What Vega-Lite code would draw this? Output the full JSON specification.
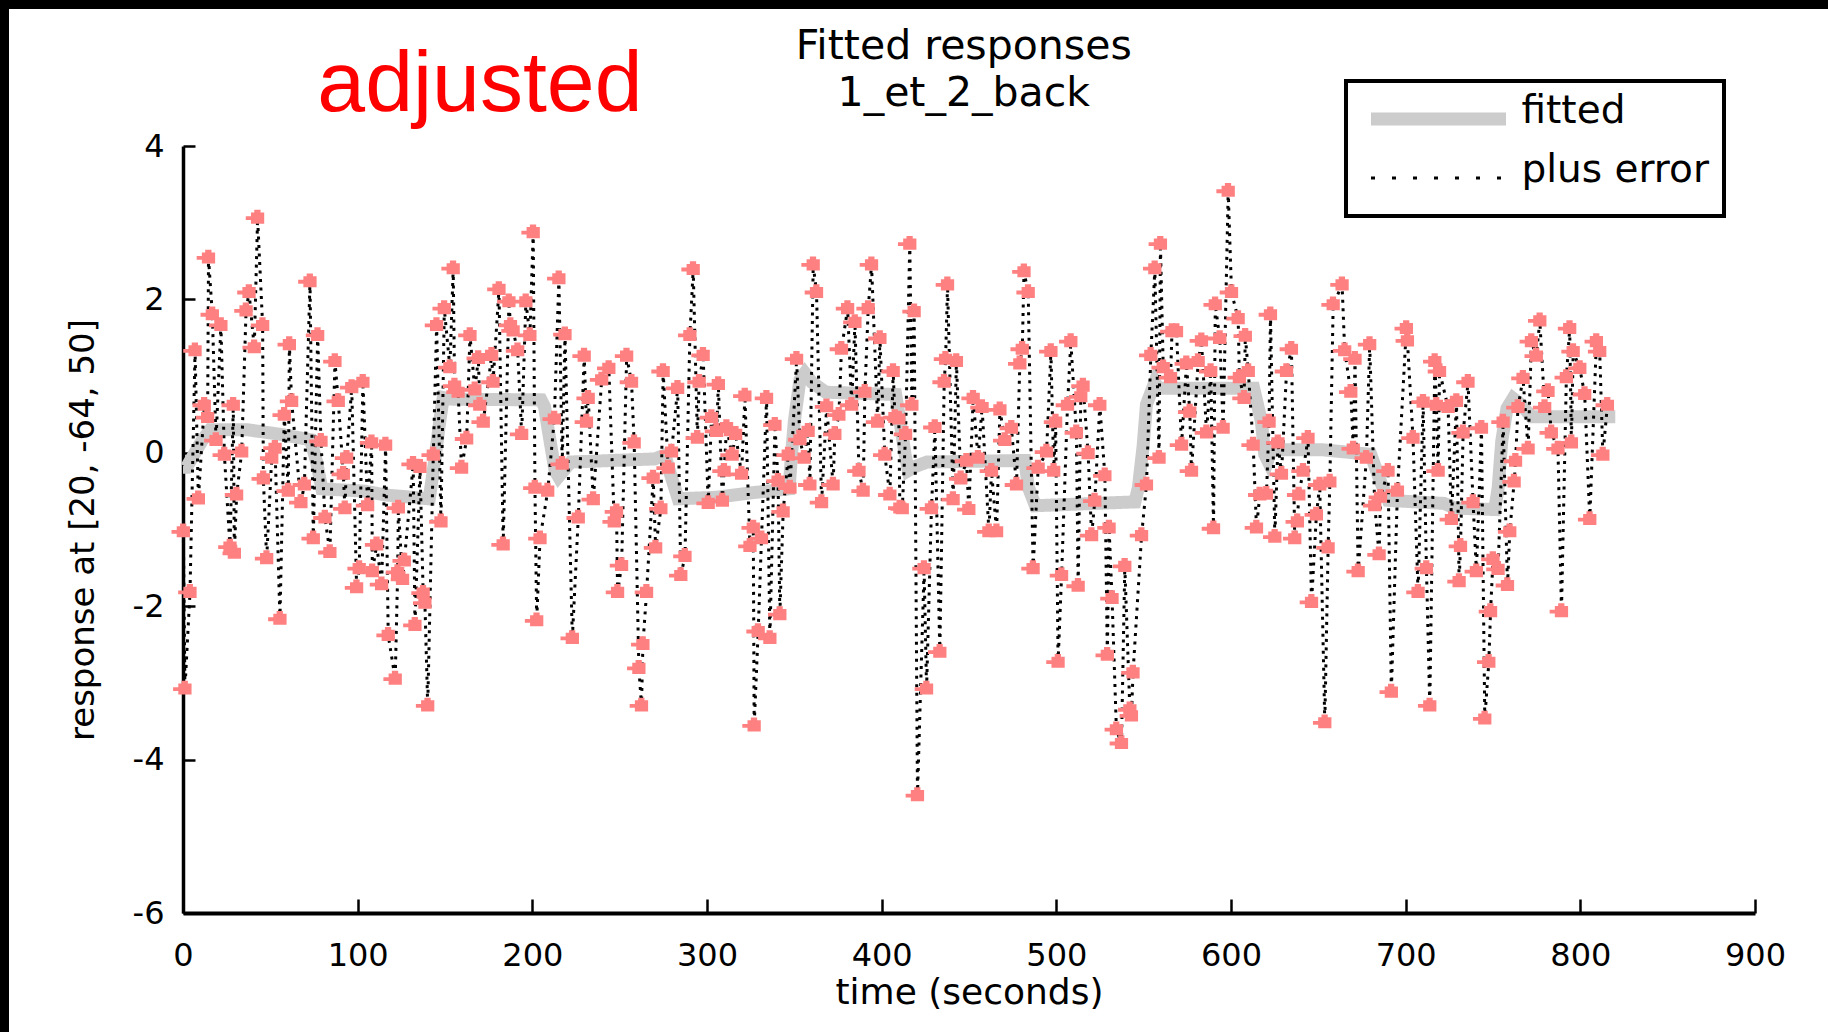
{
  "$schema": "https://vega.github.io/schema/vega-lite/v6.json",
  "width": 1819,
  "height": 1023,
  "autosize": {"type": "none"},
  "padding": {"left": 9, "top": 9, "right": 0, "bottom": 0},
  "background": "#000000",
  "config": {
    "view": {"fill": "#ffffff", "stroke": null},
    "font": "DejaVu Sans",
    "legend": {
      "orient": "none",
      "legendX": 1337,
      "legendY": 72,
      "direction": "vertical",
      "symbolType": "stroke",
      "symbolSize": 18225,
      "clipHeight": 46,
      "rowPadding": 9,
      "padding": 15,
      "symbolOffset": 3.5,
      "labelOffset": 9,
      "labelFont": "DejaVu Sans",
      "labelFontSize": 39,
      "labelBaseline": "alphabetic",
      "labelColor": "#000000",
      "labelLimit": 500,
      "strokeColor": "#000000",
      "strokeWidth": 4,
      "fillColor": "#ffffff"
    }
  },
  "datasets": {
    "fitted": [
      {"t": 0, "v": -0.19, "series": "fitted"},
      {"t": 2, "v": -0.19, "series": "fitted"},
      {"t": 10.7, "v": 0.15, "series": "fitted"},
      {"t": 15.5, "v": 0.3, "series": "fitted"},
      {"t": 37, "v": 0.3, "series": "fitted"},
      {"t": 56, "v": 0.24, "series": "fitted"},
      {"t": 73, "v": 0.17, "series": "fitted"},
      {"t": 76.5, "v": -0.12, "series": "fitted"},
      {"t": 79.5, "v": -0.47, "series": "fitted"},
      {"t": 104, "v": -0.5, "series": "fitted"},
      {"t": 116, "v": -0.55, "series": "fitted"},
      {"t": 141, "v": -0.6, "series": "fitted"},
      {"t": 144, "v": -0.12, "series": "fitted"},
      {"t": 147, "v": 0.41, "series": "fitted"},
      {"t": 149, "v": 0.72, "series": "fitted"},
      {"t": 153, "v": 0.7, "series": "fitted"},
      {"t": 205, "v": 0.69, "series": "fitted"},
      {"t": 207, "v": 0.6, "series": "fitted"},
      {"t": 209, "v": 0.31, "series": "fitted"},
      {"t": 213, "v": -0.23, "series": "fitted"},
      {"t": 215, "v": -0.31, "series": "fitted"},
      {"t": 222, "v": -0.12, "series": "fitted"},
      {"t": 270, "v": -0.08, "series": "fitted"},
      {"t": 276, "v": -0.03, "series": "fitted"},
      {"t": 278, "v": -0.2, "series": "fitted"},
      {"t": 283.5, "v": -0.6, "series": "fitted"},
      {"t": 305, "v": -0.58, "series": "fitted"},
      {"t": 326, "v": -0.52, "series": "fitted"},
      {"t": 347, "v": -0.47, "series": "fitted"},
      {"t": 348.4, "v": -0.02, "series": "fitted"},
      {"t": 350, "v": 0.41, "series": "fitted"},
      {"t": 353.2, "v": 0.95, "series": "fitted"},
      {"t": 356, "v": 1.04, "series": "fitted"},
      {"t": 360, "v": 0.92, "series": "fitted"},
      {"t": 368, "v": 0.79, "series": "fitted"},
      {"t": 408, "v": 0.76, "series": "fitted"},
      {"t": 410.5, "v": 0.41, "series": "fitted"},
      {"t": 413.4, "v": -0.02, "series": "fitted"},
      {"t": 415.3, "v": -0.23, "series": "fitted"},
      {"t": 419, "v": -0.18, "series": "fitted"},
      {"t": 426, "v": -0.12, "series": "fitted"},
      {"t": 482, "v": -0.1, "series": "fitted"},
      {"t": 484, "v": -0.45, "series": "fitted"},
      {"t": 488, "v": -0.69, "series": "fitted"},
      {"t": 545, "v": -0.64, "series": "fitted"},
      {"t": 547, "v": -0.45, "series": "fitted"},
      {"t": 549.7, "v": 0.09, "series": "fitted"},
      {"t": 551.6, "v": 0.63, "series": "fitted"},
      {"t": 556.4, "v": 0.92, "series": "fitted"},
      {"t": 558, "v": 0.84, "series": "fitted"},
      {"t": 613, "v": 0.84, "series": "fitted"},
      {"t": 617.4, "v": 0.41, "series": "fitted"},
      {"t": 619.3, "v": -0.02, "series": "fitted"},
      {"t": 621, "v": -0.1, "series": "fitted"},
      {"t": 623, "v": 0.04, "series": "fitted"},
      {"t": 652, "v": 0.04, "series": "fitted"},
      {"t": 680, "v": -0.02, "series": "fitted"},
      {"t": 685, "v": -0.34, "series": "fitted"},
      {"t": 690, "v": -0.62, "series": "fitted"},
      {"t": 722, "v": -0.66, "series": "fitted"},
      {"t": 728, "v": -0.72, "series": "fitted"},
      {"t": 751, "v": -0.74, "series": "fitted"},
      {"t": 753, "v": -0.45, "series": "fitted"},
      {"t": 755, "v": 0.15, "series": "fitted"},
      {"t": 758, "v": 0.58, "series": "fitted"},
      {"t": 761.5, "v": 0.71, "series": "fitted"},
      {"t": 766, "v": 0.63, "series": "fitted"},
      {"t": 772, "v": 0.47, "series": "fitted"},
      {"t": 820, "v": 0.47, "series": "fitted"}
    ],
    "response": [
      {"t": 0.2, "v": -1.03, "series": "plus error"},
      {"t": 1.1, "v": -3.08, "series": "plus error"},
      {"t": 4.0, "v": -1.82, "series": "plus error"},
      {"t": 6.9, "v": 1.33, "series": "plus error"},
      {"t": 8.8, "v": -0.6, "series": "plus error"},
      {"t": 12.2, "v": 0.62, "series": "plus error"},
      {"t": 14.1, "v": 0.46, "series": "plus error"},
      {"t": 14.6, "v": 2.54, "series": "plus error"},
      {"t": 16.8, "v": 1.8, "series": "plus error"},
      {"t": 18.9, "v": 0.16, "series": "plus error"},
      {"t": 21.7, "v": 1.66, "series": "plus error"},
      {"t": 23.7, "v": -0.03, "series": "plus error"},
      {"t": 26.9, "v": -1.23, "series": "plus error"},
      {"t": 28.8, "v": 0.62, "series": "plus error"},
      {"t": 29.4, "v": -1.31, "series": "plus error"},
      {"t": 30.7, "v": -0.55, "series": "plus error"},
      {"t": 33.6, "v": 0.01, "series": "plus error"},
      {"t": 36.1, "v": 1.85, "series": "plus error"},
      {"t": 37.8, "v": 2.09, "series": "plus error"},
      {"t": 40.8, "v": 1.37, "series": "plus error"},
      {"t": 42.7, "v": 3.06, "series": "plus error"},
      {"t": 45.6, "v": 1.66, "series": "plus error"},
      {"t": 46.0, "v": -0.34, "series": "plus error"},
      {"t": 47.9, "v": -1.38, "series": "plus error"},
      {"t": 50.8, "v": -0.07, "series": "plus error"},
      {"t": 52.7, "v": 0.06, "series": "plus error"},
      {"t": 55.5, "v": -2.17, "series": "plus error"},
      {"t": 58.0, "v": 0.49, "series": "plus error"},
      {"t": 60.3, "v": -0.5, "series": "plus error"},
      {"t": 60.9, "v": 1.41, "series": "plus error"},
      {"t": 62.2, "v": 0.67, "series": "plus error"},
      {"t": 67.5, "v": -0.65, "series": "plus error"},
      {"t": 69.5, "v": -0.42, "series": "plus error"},
      {"t": 72.7, "v": 2.23, "series": "plus error"},
      {"t": 74.6, "v": -1.12, "series": "plus error"},
      {"t": 77.1, "v": 1.53, "series": "plus error"},
      {"t": 79.0, "v": 0.15, "series": "plus error"},
      {"t": 81.3, "v": -0.85, "series": "plus error"},
      {"t": 84.1, "v": -1.3, "series": "plus error"},
      {"t": 87.0, "v": 1.19, "series": "plus error"},
      {"t": 88.9, "v": 0.67, "series": "plus error"},
      {"t": 91.8, "v": -0.28, "series": "plus error"},
      {"t": 92.7, "v": -0.73, "series": "plus error"},
      {"t": 93.7, "v": -0.07, "series": "plus error"},
      {"t": 96.6, "v": 0.85, "series": "plus error"},
      {"t": 99.4, "v": -1.76, "series": "plus error"},
      {"t": 100.9, "v": -1.51, "series": "plus error"},
      {"t": 103.0, "v": 0.92, "series": "plus error"},
      {"t": 105.7, "v": -0.69, "series": "plus error"},
      {"t": 108.0, "v": 0.13, "series": "plus error"},
      {"t": 108.4, "v": -1.55, "series": "plus error"},
      {"t": 110.9, "v": -1.2, "series": "plus error"},
      {"t": 113.7, "v": -1.72, "series": "plus error"},
      {"t": 116.0, "v": 0.1, "series": "plus error"},
      {"t": 117.5, "v": -2.38, "series": "plus error"},
      {"t": 121.5, "v": -2.95, "series": "plus error"},
      {"t": 122.9, "v": -1.56, "series": "plus error"},
      {"t": 123.3, "v": -0.72, "series": "plus error"},
      {"t": 125.7, "v": -1.65, "series": "plus error"},
      {"t": 126.7, "v": -1.41, "series": "plus error"},
      {"t": 131.8, "v": -0.15, "series": "plus error"},
      {"t": 132.8, "v": -2.25, "series": "plus error"},
      {"t": 135.7, "v": -0.19, "series": "plus error"},
      {"t": 137.5, "v": -1.83, "series": "plus error"},
      {"t": 138.5, "v": -1.96, "series": "plus error"},
      {"t": 140.1, "v": -3.3, "series": "plus error"},
      {"t": 143.3, "v": -0.03, "series": "plus error"},
      {"t": 145.2, "v": 1.66, "series": "plus error"},
      {"t": 147.7, "v": -0.9, "series": "plus error"},
      {"t": 149.6, "v": 1.88, "series": "plus error"},
      {"t": 152.8, "v": 1.11, "series": "plus error"},
      {"t": 154.7, "v": 2.4, "series": "plus error"},
      {"t": 155.5, "v": 0.87, "series": "plus error"},
      {"t": 157.5, "v": 0.79, "series": "plus error"},
      {"t": 159.5, "v": -0.2, "series": "plus error"},
      {"t": 162.4, "v": 0.18, "series": "plus error"},
      {"t": 164.3, "v": 1.53, "series": "plus error"},
      {"t": 167.1, "v": 0.82, "series": "plus error"},
      {"t": 169.1, "v": 1.23, "series": "plus error"},
      {"t": 169.9, "v": 0.62, "series": "plus error"},
      {"t": 171.9, "v": 0.4, "series": "plus error"},
      {"t": 176.7, "v": 1.27, "series": "plus error"},
      {"t": 177.5, "v": 0.92, "series": "plus error"},
      {"t": 180.9, "v": 2.13, "series": "plus error"},
      {"t": 183.3, "v": -1.2, "series": "plus error"},
      {"t": 186.6, "v": 1.97, "series": "plus error"},
      {"t": 187.5, "v": 1.66, "series": "plus error"},
      {"t": 189.0, "v": 1.59, "series": "plus error"},
      {"t": 191.6, "v": 1.33, "series": "plus error"},
      {"t": 193.9, "v": 0.24, "series": "plus error"},
      {"t": 196.3, "v": 1.97, "series": "plus error"},
      {"t": 198.6, "v": 1.53, "series": "plus error"},
      {"t": 200.5, "v": 2.87, "series": "plus error"},
      {"t": 201.5, "v": -0.46, "series": "plus error"},
      {"t": 202.5, "v": -2.19, "series": "plus error"},
      {"t": 204.4, "v": -1.12, "series": "plus error"},
      {"t": 208.8, "v": -0.5, "series": "plus error"},
      {"t": 212.6, "v": 0.44, "series": "plus error"},
      {"t": 215.2, "v": 2.27, "series": "plus error"},
      {"t": 217.1, "v": -0.15, "series": "plus error"},
      {"t": 218.7, "v": 1.54, "series": "plus error"},
      {"t": 222.9, "v": -2.42, "series": "plus error"},
      {"t": 226.3, "v": -0.85, "series": "plus error"},
      {"t": 229.7, "v": 1.26, "series": "plus error"},
      {"t": 231.0, "v": 0.4, "series": "plus error"},
      {"t": 232.0, "v": 0.71, "series": "plus error"},
      {"t": 234.9, "v": -0.61, "series": "plus error"},
      {"t": 239.7, "v": 0.95, "series": "plus error"},
      {"t": 243.8, "v": 1.1, "series": "plus error"},
      {"t": 246.9, "v": -0.9, "series": "plus error"},
      {"t": 248.2, "v": -0.77, "series": "plus error"},
      {"t": 248.8, "v": -1.82, "series": "plus error"},
      {"t": 251.1, "v": -1.47, "series": "plus error"},
      {"t": 254.0, "v": 1.26, "series": "plus error"},
      {"t": 256.8, "v": 0.92, "series": "plus error"},
      {"t": 258.3, "v": 0.13, "series": "plus error"},
      {"t": 261.0, "v": -2.81, "series": "plus error"},
      {"t": 262.5, "v": -3.3, "series": "plus error"},
      {"t": 263.3, "v": -2.5, "series": "plus error"},
      {"t": 265.4, "v": -1.82, "series": "plus error"},
      {"t": 269.2, "v": -0.33, "series": "plus error"},
      {"t": 270.6, "v": -1.24, "series": "plus error"},
      {"t": 273.6, "v": -0.73, "series": "plus error"},
      {"t": 274.9, "v": 1.06, "series": "plus error"},
      {"t": 277.8, "v": -0.2, "series": "plus error"},
      {"t": 279.7, "v": 0.01, "series": "plus error"},
      {"t": 283.2, "v": 0.84, "series": "plus error"},
      {"t": 285.0, "v": -1.6, "series": "plus error"},
      {"t": 287.4, "v": -1.35, "series": "plus error"},
      {"t": 290.2, "v": 1.53, "series": "plus error"},
      {"t": 292.1, "v": 2.39, "series": "plus error"},
      {"t": 294.5, "v": 0.19, "series": "plus error"},
      {"t": 295.5, "v": 0.92, "series": "plus error"},
      {"t": 297.8, "v": 1.27, "series": "plus error"},
      {"t": 300.7, "v": -0.66, "series": "plus error"},
      {"t": 302.6, "v": 0.46, "series": "plus error"},
      {"t": 305.5, "v": 0.28, "series": "plus error"},
      {"t": 306.5, "v": 0.89, "series": "plus error"},
      {"t": 308.8, "v": -0.63, "series": "plus error"},
      {"t": 309.8, "v": -0.24, "series": "plus error"},
      {"t": 311.2, "v": 0.33, "series": "plus error"},
      {"t": 314.4, "v": -0.03, "series": "plus error"},
      {"t": 316.4, "v": 0.24, "series": "plus error"},
      {"t": 319.8, "v": -0.28, "series": "plus error"},
      {"t": 321.7, "v": 0.74, "series": "plus error"},
      {"t": 324.6, "v": -1.22, "series": "plus error"},
      {"t": 326.5, "v": -0.98, "series": "plus error"},
      {"t": 327.0, "v": -3.56, "series": "plus error"},
      {"t": 329.3, "v": -2.33, "series": "plus error"},
      {"t": 331.2, "v": -1.12, "series": "plus error"},
      {"t": 334.1, "v": 0.71, "series": "plus error"},
      {"t": 336.0, "v": -2.42, "series": "plus error"},
      {"t": 338.9, "v": 0.36, "series": "plus error"},
      {"t": 340.7, "v": -0.37, "series": "plus error"},
      {"t": 341.7, "v": -2.11, "series": "plus error"},
      {"t": 343.6, "v": -0.77, "series": "plus error"},
      {"t": 346.5, "v": -0.03, "series": "plus error"},
      {"t": 347.5, "v": -0.46, "series": "plus error"},
      {"t": 351.3, "v": 1.22, "series": "plus error"},
      {"t": 353.2, "v": 0.17, "series": "plus error"},
      {"t": 355.6, "v": -0.07, "series": "plus error"},
      {"t": 357.9, "v": 0.28, "series": "plus error"},
      {"t": 358.9, "v": -0.42, "series": "plus error"},
      {"t": 360.8, "v": 2.45, "series": "plus error"},
      {"t": 362.7, "v": 2.09, "series": "plus error"},
      {"t": 365.6, "v": -0.65, "series": "plus error"},
      {"t": 368.5, "v": 0.6, "series": "plus error"},
      {"t": 372.2, "v": -0.42, "series": "plus error"},
      {"t": 373.2, "v": 0.24, "series": "plus error"},
      {"t": 375.5, "v": 0.49, "series": "plus error"},
      {"t": 377.0, "v": 1.35, "series": "plus error"},
      {"t": 380.5, "v": 1.88, "series": "plus error"},
      {"t": 382.8, "v": 0.62, "series": "plus error"},
      {"t": 384.7, "v": 1.7, "series": "plus error"},
      {"t": 387.0, "v": -0.24, "series": "plus error"},
      {"t": 389.4, "v": -0.5, "series": "plus error"},
      {"t": 390.4, "v": 0.79, "series": "plus error"},
      {"t": 392.3, "v": 1.88, "series": "plus error"},
      {"t": 394.2, "v": 2.45, "series": "plus error"},
      {"t": 397.7, "v": 0.4, "series": "plus error"},
      {"t": 399.0, "v": 1.49, "series": "plus error"},
      {"t": 401.8, "v": -0.03, "series": "plus error"},
      {"t": 404.7, "v": -0.55, "series": "plus error"},
      {"t": 406.6, "v": 1.06, "series": "plus error"},
      {"t": 407.6, "v": 0.46, "series": "plus error"},
      {"t": 409.8, "v": 0.44, "series": "plus error"},
      {"t": 410.4, "v": -0.72, "series": "plus error"},
      {"t": 411.8, "v": -0.73, "series": "plus error"},
      {"t": 413.7, "v": 0.24, "series": "plus error"},
      {"t": 416.1, "v": 2.72, "series": "plus error"},
      {"t": 417.3, "v": 0.62, "series": "plus error"},
      {"t": 418.6, "v": 1.84, "series": "plus error"},
      {"t": 420.5, "v": -4.47, "series": "plus error"},
      {"t": 424.3, "v": -1.51, "series": "plus error"},
      {"t": 425.7, "v": -3.08, "series": "plus error"},
      {"t": 428.5, "v": -0.73, "series": "plus error"},
      {"t": 430.5, "v": 0.33, "series": "plus error"},
      {"t": 433.3, "v": -2.6, "series": "plus error"},
      {"t": 435.8, "v": 0.92, "series": "plus error"},
      {"t": 436.6, "v": 1.22, "series": "plus error"},
      {"t": 437.7, "v": 2.19, "series": "plus error"},
      {"t": 440.9, "v": -0.61, "series": "plus error"},
      {"t": 442.8, "v": 1.19, "series": "plus error"},
      {"t": 445.3, "v": -0.34, "series": "plus error"},
      {"t": 448.6, "v": -0.11, "series": "plus error"},
      {"t": 449.9, "v": -0.74, "series": "plus error"},
      {"t": 452.4, "v": 0.71, "series": "plus error"},
      {"t": 455.2, "v": -0.07, "series": "plus error"},
      {"t": 457.5, "v": 0.59, "series": "plus error"},
      {"t": 461.4, "v": -1.03, "series": "plus error"},
      {"t": 462.9, "v": -0.24, "series": "plus error"},
      {"t": 465.8, "v": -1.03, "series": "plus error"},
      {"t": 467.7, "v": 0.56, "series": "plus error"},
      {"t": 470.5, "v": 0.16, "series": "plus error"},
      {"t": 474.3, "v": 0.32, "series": "plus error"},
      {"t": 477.2, "v": -0.42, "series": "plus error"},
      {"t": 479.1, "v": 1.16, "series": "plus error"},
      {"t": 480.5, "v": 1.35, "series": "plus error"},
      {"t": 481.5, "v": 2.36, "series": "plus error"},
      {"t": 483.9, "v": 2.09, "series": "plus error"},
      {"t": 486.7, "v": -1.51, "series": "plus error"},
      {"t": 489.6, "v": -0.2, "series": "plus error"},
      {"t": 494.4, "v": 0.01, "series": "plus error"},
      {"t": 496.9, "v": 1.32, "series": "plus error"},
      {"t": 498.5, "v": -0.24, "series": "plus error"},
      {"t": 499.6, "v": 0.4, "series": "plus error"},
      {"t": 501.0, "v": -2.73, "series": "plus error"},
      {"t": 503.0, "v": -1.6, "series": "plus error"},
      {"t": 506.4, "v": 0.62, "series": "plus error"},
      {"t": 508.3, "v": 1.45, "series": "plus error"},
      {"t": 511.5, "v": 0.26, "series": "plus error"},
      {"t": 512.5, "v": -1.74, "series": "plus error"},
      {"t": 514.0, "v": 0.73, "series": "plus error"},
      {"t": 515.3, "v": 0.87, "series": "plus error"},
      {"t": 518.2, "v": -0.01, "series": "plus error"},
      {"t": 520.2, "v": -1.08, "series": "plus error"},
      {"t": 522.0, "v": -0.63, "series": "plus error"},
      {"t": 524.9, "v": 0.62, "series": "plus error"},
      {"t": 527.8, "v": -0.3, "series": "plus error"},
      {"t": 529.2, "v": -2.64, "series": "plus error"},
      {"t": 530.2, "v": -0.98, "series": "plus error"},
      {"t": 531.9, "v": -1.9, "series": "plus error"},
      {"t": 534.4, "v": -3.61, "series": "plus error"},
      {"t": 537.3, "v": -3.79, "series": "plus error"},
      {"t": 539.2, "v": -1.48, "series": "plus error"},
      {"t": 542.1, "v": -3.35, "series": "plus error"},
      {"t": 543.0, "v": -3.43, "series": "plus error"},
      {"t": 543.9, "v": -2.87, "series": "plus error"},
      {"t": 548.8, "v": -1.08, "series": "plus error"},
      {"t": 551.6, "v": -0.42, "series": "plus error"},
      {"t": 554.1, "v": 1.27, "series": "plus error"},
      {"t": 556.4, "v": 2.4, "series": "plus error"},
      {"t": 558.8, "v": -0.07, "series": "plus error"},
      {"t": 559.6, "v": 2.72, "series": "plus error"},
      {"t": 561.2, "v": 1.11, "series": "plus error"},
      {"t": 565.4, "v": 0.98, "series": "plus error"},
      {"t": 566.2, "v": 1.58, "series": "plus error"},
      {"t": 568.8, "v": 1.58, "series": "plus error"},
      {"t": 571.7, "v": 0.1, "series": "plus error"},
      {"t": 574.5, "v": 1.16, "series": "plus error"},
      {"t": 576.4, "v": 0.53, "series": "plus error"},
      {"t": 577.4, "v": -0.24, "series": "plus error"},
      {"t": 581.2, "v": 1.19, "series": "plus error"},
      {"t": 583.1, "v": 1.46, "series": "plus error"},
      {"t": 586.0, "v": 0.26, "series": "plus error"},
      {"t": 588.4, "v": 1.06, "series": "plus error"},
      {"t": 590.0, "v": -0.99, "series": "plus error"},
      {"t": 591.0, "v": 1.93, "series": "plus error"},
      {"t": 593.6, "v": 1.49, "series": "plus error"},
      {"t": 595.5, "v": 0.32, "series": "plus error"},
      {"t": 598.4, "v": 3.41, "series": "plus error"},
      {"t": 600.3, "v": 2.09, "series": "plus error"},
      {"t": 604.1, "v": 1.75, "series": "plus error"},
      {"t": 604.8, "v": 0.98, "series": "plus error"},
      {"t": 607.5, "v": 0.71, "series": "plus error"},
      {"t": 608.2, "v": 1.52, "series": "plus error"},
      {"t": 609.9, "v": 1.06, "series": "plus error"},
      {"t": 612.7, "v": 0.1, "series": "plus error"},
      {"t": 614.6, "v": -0.98, "series": "plus error"},
      {"t": 616.5, "v": -0.55, "series": "plus error"},
      {"t": 620.3, "v": -0.54, "series": "plus error"},
      {"t": 621.8, "v": 0.4, "series": "plus error"},
      {"t": 622.6, "v": 1.8, "series": "plus error"},
      {"t": 625.1, "v": -1.1, "series": "plus error"},
      {"t": 626.9, "v": 0.13, "series": "plus error"},
      {"t": 628.9, "v": -0.28, "series": "plus error"},
      {"t": 631.8, "v": 1.06, "series": "plus error"},
      {"t": 634.6, "v": 1.35, "series": "plus error"},
      {"t": 636.5, "v": -1.12, "series": "plus error"},
      {"t": 638.0, "v": -0.9, "series": "plus error"},
      {"t": 638.8, "v": -0.55, "series": "plus error"},
      {"t": 641.3, "v": -0.24, "series": "plus error"},
      {"t": 644.1, "v": 0.19, "series": "plus error"},
      {"t": 646.1, "v": -1.95, "series": "plus error"},
      {"t": 648.9, "v": -0.81, "series": "plus error"},
      {"t": 650.8, "v": -0.42, "series": "plus error"},
      {"t": 653.7, "v": -3.52, "series": "plus error"},
      {"t": 655.6, "v": -1.24, "series": "plus error"},
      {"t": 656.6, "v": -0.38, "series": "plus error"},
      {"t": 658.5, "v": 1.93, "series": "plus error"},
      {"t": 663.6, "v": 2.19, "series": "plus error"},
      {"t": 665.1, "v": 1.33, "series": "plus error"},
      {"t": 668.6, "v": 0.79, "series": "plus error"},
      {"t": 670.0, "v": 0.05, "series": "plus error"},
      {"t": 671.0, "v": 1.22, "series": "plus error"},
      {"t": 672.8, "v": -1.55, "series": "plus error"},
      {"t": 677.5, "v": -0.07, "series": "plus error"},
      {"t": 679.4, "v": 1.41, "series": "plus error"},
      {"t": 682.3, "v": -0.69, "series": "plus error"},
      {"t": 684.8, "v": -1.33, "series": "plus error"},
      {"t": 685.6, "v": -0.58, "series": "plus error"},
      {"t": 689.9, "v": -0.24, "series": "plus error"},
      {"t": 691.8, "v": -3.12, "series": "plus error"},
      {"t": 695.3, "v": -0.5, "series": "plus error"},
      {"t": 700.4, "v": 1.62, "series": "plus error"},
      {"t": 701.0, "v": 1.46, "series": "plus error"},
      {"t": 704.2, "v": 0.19, "series": "plus error"},
      {"t": 707.1, "v": -1.82, "series": "plus error"},
      {"t": 710.0, "v": 0.66, "series": "plus error"},
      {"t": 711.9, "v": -1.51, "series": "plus error"},
      {"t": 713.8, "v": -3.3, "series": "plus error"},
      {"t": 716.7, "v": 1.19, "series": "plus error"},
      {"t": 717.6, "v": 0.62, "series": "plus error"},
      {"t": 718.6, "v": -0.24, "series": "plus error"},
      {"t": 719.4, "v": 1.06, "series": "plus error"},
      {"t": 724.3, "v": 0.59, "series": "plus error"},
      {"t": 726.2, "v": -0.87, "series": "plus error"},
      {"t": 729.1, "v": 0.67, "series": "plus error"},
      {"t": 730.6, "v": -1.68, "series": "plus error"},
      {"t": 731.4, "v": -1.22, "series": "plus error"},
      {"t": 732.9, "v": 0.26, "series": "plus error"},
      {"t": 735.7, "v": 0.92, "series": "plus error"},
      {"t": 738.6, "v": -0.65, "series": "plus error"},
      {"t": 740.5, "v": -1.55, "series": "plus error"},
      {"t": 743.4, "v": 0.32, "series": "plus error"},
      {"t": 745.3, "v": -3.47, "series": "plus error"},
      {"t": 747.6, "v": -2.73, "series": "plus error"},
      {"t": 748.6, "v": -2.07, "series": "plus error"},
      {"t": 750.0, "v": -1.39, "series": "plus error"},
      {"t": 752.9, "v": -1.52, "series": "plus error"},
      {"t": 755.8, "v": 0.4, "series": "plus error"},
      {"t": 758.3, "v": -1.73, "series": "plus error"},
      {"t": 759.6, "v": -1.03, "series": "plus error"},
      {"t": 762.1, "v": -0.38, "series": "plus error"},
      {"t": 762.9, "v": -0.11, "series": "plus error"},
      {"t": 764.3, "v": 0.59, "series": "plus error"},
      {"t": 767.2, "v": 0.97, "series": "plus error"},
      {"t": 770.1, "v": 0.05, "series": "plus error"},
      {"t": 772.0, "v": 1.45, "series": "plus error"},
      {"t": 774.8, "v": 1.26, "series": "plus error"},
      {"t": 776.8, "v": 1.72, "series": "plus error"},
      {"t": 779.6, "v": 0.59, "series": "plus error"},
      {"t": 781.5, "v": 0.8, "series": "plus error"},
      {"t": 783.4, "v": 0.26, "series": "plus error"},
      {"t": 787.2, "v": 0.05, "series": "plus error"},
      {"t": 789.2, "v": -2.07, "series": "plus error"},
      {"t": 792.0, "v": 0.98, "series": "plus error"},
      {"t": 793.9, "v": 1.62, "series": "plus error"},
      {"t": 794.9, "v": 0.13, "series": "plus error"},
      {"t": 795.9, "v": 1.32, "series": "plus error"},
      {"t": 799.7, "v": 1.1, "series": "plus error"},
      {"t": 802.5, "v": 0.76, "series": "plus error"},
      {"t": 805.4, "v": -0.87, "series": "plus error"},
      {"t": 809.2, "v": 1.45, "series": "plus error"},
      {"t": 811.1, "v": 1.32, "series": "plus error"},
      {"t": 812.9, "v": -0.03, "series": "plus error"},
      {"t": 815.5, "v": 0.62, "series": "plus error"}
    ]
  },
  "layer": [
    {
      "data": {"name": "fitted"},
      "mark": {"type": "line", "strokeCap": "butt", "strokeJoin": "miter"},
      "encoding": {
        "x": {
          "field": "t", "type": "quantitative", "title": "time (seconds)",
          "scale": {"domain": [0, 900], "range": [174, 1746], "nice": false, "zero": false},
          "axis": {
            "values": [0, 100, 200, 300, 400, 500, 600, 700, 800, 900],
            "format": "d",
            "offset": -119, "grid": false,
            "domainColor": "#000000", "domainWidth": 4,
            "tickColor": "#000000", "tickWidth": 2.5, "tickSize": -14,
            "labelPadding": 41, "labelFont": "DejaVu Sans", "labelFontSize": 32, "labelColor": "#000000",
            "labelFlush": false, "labelOverlap": false,
            "titleFont": "DejaVu Sans", "titleFontSize": 36, "titleFontWeight": "normal", "titleColor": "#000000", "titlePadding": 4
          }
        },
        "y": {
          "field": "v", "type": "quantitative", "title": "response at [20, -64, 50]",
          "scale": {"domain": [-6, 4], "range": [904, 137], "nice": false, "zero": false},
          "axis": {
            "values": [-6, -4, -2, 0, 2, 4],
            "labelExpr": "datum.value < 0 ? '-' + format(-datum.value, 'd') : format(datum.value, 'd')",
            "offset": -174, "grid": false,
            "domainColor": "#000000", "domainWidth": 3.5,
            "tickColor": "#000000", "tickWidth": 2.5, "tickSize": -12,
            "labelPadding": 31, "labelFont": "DejaVu Sans", "labelFontSize": 32, "labelColor": "#000000",
            "labelFlush": false, "labelOverlap": false,
            "titleFont": "DejaVu Sans", "titleFontSize": 34, "titleFontWeight": "normal", "titleColor": "#000000", "titlePadding": 32
          }
        },
        "color": {
          "field": "series", "type": "nominal",
          "scale": {"domain": ["fitted", "plus error"], "range": ["#cccccc", "#000000"]},
          "legend": {"title": null, "encode": {"labels": {"update": {"dy": {"value": 4}}}}}
        },
        "strokeWidth": {
          "field": "series", "type": "nominal",
          "scale": {"domain": ["fitted", "plus error"], "range": [13, 3]},
          "legend": {"title": null}
        },
        "strokeDash": {
          "field": "series", "type": "nominal",
          "scale": {"domain": ["fitted", "plus error"], "range": [[1, 0], [4, 17]]},
          "legend": {"title": null}
        }
      }
    },
    {
      "data": {"name": "response"},
      "mark": {"type": "line", "strokeCap": "butt", "strokeDash": [3, 5.5]},
      "encoding": {
        "x": {"field": "t", "type": "quantitative", "title": "time (seconds)"},
        "y": {"field": "v", "type": "quantitative", "title": "response at [20, -64, 50]"},
        "color": {"field": "series", "type": "nominal", "legend": {"title": null}},
        "strokeWidth": {"field": "series", "type": "nominal", "legend": {"title": null}}
      }
    },
    {
      "data": {"name": "response"},
      "mark": {
        "type": "point",
        "shape": "M-1,-0.16 L-0.56,-0.16 L-0.56,-0.47 L-0.28,-0.47 L-0.28,-0.7 L0.25,-0.7 L0.25,-0.47 L0.56,-0.47 L0.56,0.47 L-0.56,0.47 L-0.56,0.16 L-1,0.16 Z",
        "filled": true, "fill": "#ff8080", "stroke": null, "strokeWidth": 0, "opacity": 1, "size": 560
      },
      "encoding": {
        "x": {"field": "t", "type": "quantitative", "title": "time (seconds)"},
        "y": {"field": "v", "type": "quantitative", "title": "response at [20, -64, 50]"}
      }
    },
    {
      "data": {"values": [{}]},
      "mark": {"type": "text", "text": ["Fitted responses", "1_et_2_back"], "lineHeight": 47, "font": "DejaVu Sans", "fontSize": 41, "align": "center", "baseline": "alphabetic", "color": "#000000"},
      "encoding": {
        "x": {"datum": 447, "type": "quantitative", "title": "time (seconds)"},
        "y": {"datum": 5.13, "type": "quantitative", "title": "response at [20, -64, 50]"}
      }
    },
    {
      "data": {"values": [{}]},
      "mark": {"type": "text", "text": "adjusted", "font": "Liberation Sans", "fontSize": 86, "align": "center", "baseline": "alphabetic", "color": "#ff0000"},
      "encoding": {
        "x": {"datum": 170, "type": "quantitative", "title": "time (seconds)"},
        "y": {"datum": 4.46, "type": "quantitative", "title": "response at [20, -64, 50]"}
      }
    }
  ]
}
